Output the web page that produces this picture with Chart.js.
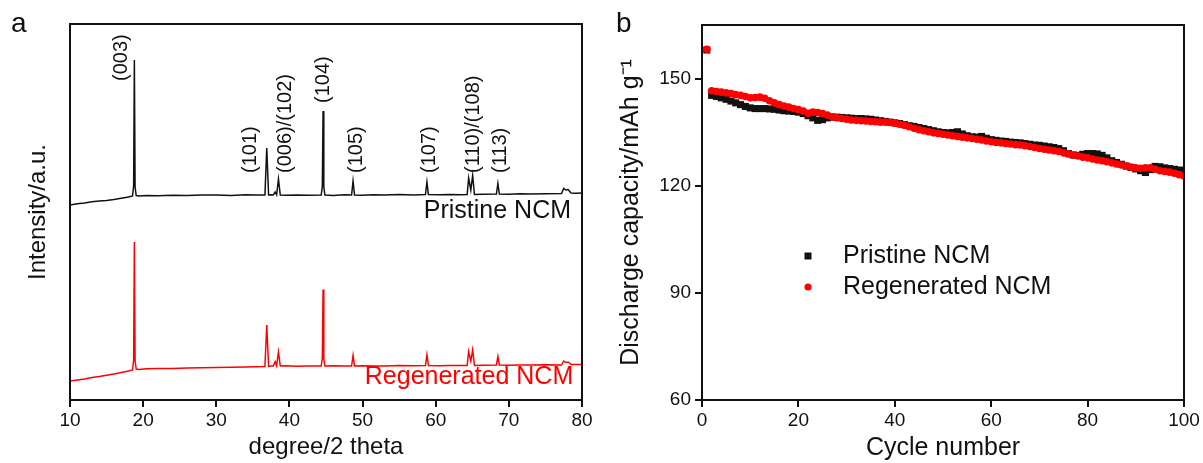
<!DOCTYPE html>
<html>
<head>
<meta charset="utf-8">
<title>NCM XRD and cycling</title>
<script src="https://cdn.jsdelivr.net/npm/chart.js@4.4.1/dist/chart.umd.min.js"></script>
<style>
    body { margin: 0; background: #fff; }
    #wrap { position: relative; width: 1203px; height: 463px; }
    .panel { position: absolute; top: 0; height: 463px; }
    #panelA { left: 0; width: 600px; }
    #panelB { left: 600px; width: 603px; }
</style>
</head>
<body>
<div id="wrap">
    <div class="panel" id="panelA"><canvas id="xrdChart"></canvas></div>
    <div class="panel" id="panelB"><canvas id="cycleChart"></canvas></div>
</div>
<script>
// ---- panel a: XRD patterns (intensity in arbitrary units, offset stacked) ----
const twoTheta = [
    10, 11, 12, 13, 14, 15, 16, 17, 18, 18.55, 18.7, 18.8, 18.9, 19.05, 19.4, 20.5, 22, 24, 26, 28, 30, 32,
    34, 35.5, 36.65, 36.9, 37.15, 37.5, 37.8, 38.05, 38.25, 38.5, 38.75, 39.5, 41, 42.5, 44.35, 44.5, 44.6, 44.7, 44.85, 46, 47.5, 48.5,
    48.7, 48.9, 50, 51.5, 53, 55, 57, 58.6, 58.8, 59.0, 60.5, 62, 63.5, 64.3, 64.5, 64.8, 65.05, 65.3, 66.5, 68.3,
    68.5, 68.7, 70, 71.5, 73, 75, 77.2, 77.5, 77.8, 78.1, 78.5, 79.2, 80
];
const pristineXrd = [
    195, 196.2, 197, 198.3, 199, 199.6, 200.5, 201.8, 203, 204, 214, 340, 213, 204.5, 204, 204.6, 204.3, 204.8, 204.5, 204.9, 205, 204.6,
    205.2, 204.9, 205, 252, 205, 205.3, 205, 208, 205.2, 221, 205, 204.7, 205.1, 204.8, 205, 214, 289, 213, 205, 204.6, 205.2, 205,
    219, 205, 204.8, 205.3, 205, 205.4, 205.1, 205.5, 218, 205.5, 205.2, 205.6, 205.3, 205.5, 222, 210, 224.5, 205.5, 205.8, 206,
    216.5, 206, 205.7, 206.2, 206, 206.3, 206.5, 211.5, 210, 210.5, 207, 206.8, 207
];
const regeneratedXrd = [
    19, 20.1, 21, 22.4, 23.5, 24.8, 26, 27.6, 29, 30, 40, 158, 39, 31, 30.5, 31.2, 31.5, 31.6, 32, 32.3, 32.5, 32.8,
    33, 33.2, 33.5, 75, 33.5, 33.9, 34, 38.4, 34.2, 48, 34, 34.3, 33.8, 34.1, 34, 42, 110.4, 41, 34, 34.2, 33.9, 34,
    44.5, 34, 34.3, 33.9, 34.1, 34.4, 34.2, 34.5, 45.2, 34.5, 34.3, 34.6, 34.4, 34.5, 48.5, 39, 50.2, 34.5, 34.8, 35,
    43.5, 35, 34.7, 35.1, 35, 35.2, 35, 39, 37.5, 38, 35.5, 35.4, 35.5
];
const peakNames = ['(003)', '(101)', '(006)/(102)', '(104)', '(105)', '(107)', '(110)/(108)', '(113)'];

// ---- panel b: cycling ----
const cycles = [
    1, 2, 3, 4, 5, 6, 7, 8, 9, 10, 11, 12, 13, 14, 15, 16, 17, 18, 19, 20,
    21, 22, 23, 24, 25, 26, 27, 28, 29, 30, 31, 32, 33, 34, 35, 36, 37, 38, 39, 40,
    41, 42, 43, 44, 45, 46, 47, 48, 49, 50, 51, 52, 53, 54, 55, 56, 57, 58, 59, 60,
    61, 62, 63, 64, 65, 66, 67, 68, 69, 70, 71, 72, 73, 74, 75, 76, 77, 78, 79, 80,
    81, 82, 83, 84, 85, 86, 87, 88, 89, 90, 91, 92, 93, 94, 95, 96, 97, 98, 99, 100
];
const pristineCapacity = [
    158.0, 145.3, 145.0, 144.6, 144.2, 143.7, 143.2, 142.7, 142.2, 141.8, 141.6, 141.6, 141.6, 141.5, 141.4, 141.2, 141.0, 140.9, 140.8, 140.6,
    140.2, 139.6, 139.0, 138.3, 138.5, 139.0, 139.2, 139.2, 139.1, 139.0, 138.9, 138.8, 138.8, 138.7, 138.6, 138.4, 138.2, 138.0, 137.8, 137.6,
    137.4, 137.1, 136.8, 136.6, 136.3, 136.0, 135.7, 135.4, 135.1, 134.9, 134.8, 134.9, 135.1, 134.5, 134.0, 133.7, 133.6, 133.8, 133.3, 132.9,
    132.7, 132.5, 132.4, 132.2, 132.1, 132.0, 131.8, 131.6, 131.4, 131.3, 131.1, 130.9, 130.7, 130.4, 129.8, 129.0, 128.6, 128.5, 128.8, 129.0,
    129.0, 128.9, 128.5, 127.8, 127.0, 126.5, 126.0, 125.5, 125.1, 124.7, 124.2, 123.7, 124.5, 125.4, 125.3, 125.0, 124.8, 124.6, 124.4, 124.2
];
const regeneratedCapacity = [
    158.2, 146.6, 146.4, 146.2, 146.0, 145.8, 145.5, 145.3, 145.0, 144.6, 144.7, 144.8, 144.5, 143.8, 143.2, 142.7, 142.3, 142.0, 141.6, 141.3,
    140.9, 140.3, 140.6, 140.5, 140.2, 139.8, 139.3, 139.0, 138.8, 138.6, 138.4, 138.3, 138.2, 138.1, 138.0, 137.9, 137.8, 137.8, 137.7, 137.5,
    137.2, 136.9, 136.5, 136.1, 135.7, 135.4, 135.1, 134.8, 134.6, 134.4, 134.2, 134.0, 133.8, 133.6, 133.4, 133.2, 133.0, 132.8, 132.5, 132.3,
    132.1, 132.0, 131.8, 131.7, 131.5, 131.4, 131.2, 131.0, 130.7, 130.4, 130.2, 130.0, 129.8, 129.6, 129.2, 128.9, 128.6, 128.3, 128.0, 127.8,
    127.5, 127.2, 127.0, 126.7, 126.4, 126.1, 125.8, 125.5, 125.2, 125.0, 124.9, 125.0, 125.0, 124.6, 124.2, 124.0, 123.8, 123.5, 123.1, 122.7
];

Chart.defaults.font.family = "'Liberation Sans', Arial, sans-serif";
Chart.defaults.color = '#111';

const INK = '#111';
const RED = '#ff0000';

// closed frame around the plot area (top and right sides too)
const frameBox = {
    id: 'frameBox',
    afterDraw(chart) {
        const { ctx, chartArea: a } = chart;
        ctx.save();
        ctx.strokeStyle = INK;
        ctx.lineWidth = 2;
        ctx.strokeRect(a.left, a.top, a.right - a.left, a.bottom - a.top);
        ctx.restore();
    }
};

// panel letter + free text notes anchored in data coordinates
const panelText = {
    id: 'panelText',
    afterDraw(chart, args, opts) {
        const { ctx, scales } = chart;
        ctx.save();
        ctx.fillStyle = INK;
        ctx.font = "28px 'Liberation Sans', Arial, sans-serif";
        ctx.textBaseline = 'alphabetic';
        ctx.textAlign = 'left';
        ctx.fillText(opts.letter, opts.letterX, 32);
        (opts.notes || []).forEach(n => {
            const x = scales.x.getPixelForValue(n.x);
            const y = scales.y.getPixelForValue(n.y);
            ctx.save();
            ctx.translate(x, y);
            if (n.rotate) ctx.rotate(-Math.PI / 2);
            ctx.font = n.size + "px 'Liberation Sans', Arial, sans-serif";
            ctx.fillStyle = n.color || INK;
            ctx.textAlign = n.align || 'left';
            ctx.textBaseline = 'middle';
            ctx.fillText(n.text, 0, 0);
            ctx.restore();
        });
        ctx.restore();
    }
};

// legend drawn inside the plot area from the datasets
const insideLegend = {
    id: 'insideLegend',
    afterDraw(chart, args, opts) {
        const { ctx, chartArea: a } = chart;
        ctx.save();
        ctx.font = "25px 'Liberation Sans', Arial, sans-serif";
        ctx.textBaseline = 'middle';
        chart.data.datasets.forEach((ds, i) => {
            const y = opts.top + i * opts.rowGap;
            const x = a.left + opts.markerX;
            ctx.fillStyle = ds.backgroundColor;
            if (ds.pointStyle === 'rect') {
                ctx.fillRect(x - 3.5, y - 3.5, 7, 7);
            } else {
                ctx.beginPath();
                ctx.arc(x, y, 3.6, 0, Math.PI * 2);
                ctx.fill();
            }
            ctx.fillStyle = INK;
            ctx.fillText(ds.label, a.left + opts.textX, y);
        });
        ctx.restore();
    }
};

const tickFont = { size: 19 };

// Panel a
new Chart(document.getElementById('xrdChart').getContext('2d'), {
    type: 'line',
    data: {
        datasets: [
            {
                label: 'Pristine NCM',
                data: twoTheta.map((t, i) => ({ x: t, y: pristineXrd[i] })),
                borderColor: INK,
                borderWidth: 1.5,
                pointRadius: 0,
                tension: 0
            },
            {
                label: 'Regenerated NCM',
                data: twoTheta.map((t, i) => ({ x: t, y: regeneratedXrd[i] })),
                borderColor: RED,
                borderWidth: 1.5,
                pointRadius: 0,
                tension: 0
            }
        ]
    },
    options: {
        responsive: true,
        maintainAspectRatio: false,
        animation: false,
        devicePixelRatio: 1,
        layout: { padding: { top: 24, right: 18, bottom: 0, left: 0 } },
        plugins: {
            legend: { display: false },
            tooltip: { enabled: false },
            panelText: {
                letter: 'a',
                letterX: 11,
                notes: [
                    { text: peakNames[0], x: 17.1, y: 319, rotate: true, size: 20 },
                    { text: peakNames[1], x: 34.7, y: 227, rotate: true, size: 20 },
                    { text: peakNames[2], x: 39.4, y: 227, rotate: true, size: 20 },
                    { text: peakNames[3], x: 44.7, y: 297, rotate: true, size: 20 },
                    { text: peakNames[4], x: 49.2, y: 227, rotate: true, size: 20 },
                    { text: peakNames[5], x: 59.1, y: 227, rotate: true, size: 20 },
                    { text: peakNames[6], x: 65.2, y: 227, rotate: true, size: 20 },
                    { text: peakNames[7], x: 68.9, y: 227, rotate: true, size: 20 },
                    { text: 'Pristine NCM', x: 78.5, y: 189, align: 'right', size: 25 },
                    { text: 'Regenerated NCM', x: 78.8, y: 22.5, align: 'right', size: 25, color: RED }
                ]
            }
        },
        scales: {
            x: {
                type: 'linear',
                min: 10,
                max: 80,
                ticks: { stepSize: 10, font: tickFont, padding: 2, maxRotation: 0 },
                grid: { drawOnChartArea: false, drawTicks: true, tickLength: 7, color: INK, lineWidth: 2 },
                border: { display: true, color: INK, width: 2 },
                title: { display: true, text: 'degree/2 theta', font: { size: 24 }, padding: { top: 0, bottom: 1 } },
                afterFit(scale) { scale.height = 63; }
            },
            y: {
                min: 0,
                max: 376,
                ticks: { display: false },
                grid: { display: false },
                border: { display: true, color: INK, width: 2 },
                title: { display: true, text: 'Intensity/a.u.', font: { size: 24 }, padding: { top: 24, bottom: 0 } },
                afterFit(scale) { scale.width = 70; }
            }
        }
    },
    plugins: [frameBox, panelText]
});

// Panel b
new Chart(document.getElementById('cycleChart').getContext('2d'), {
    type: 'scatter',
    data: {
        datasets: [
            {
                label: 'Pristine NCM',
                data: cycles.map((c, i) => ({ x: c, y: pristineCapacity[i] })),
                pointStyle: 'rect',
                pointRadius: 5,
                backgroundColor: INK,
                borderWidth: 0,
                order: 2
            },
            {
                label: 'Regenerated NCM',
                data: cycles.map((c, i) => ({ x: c, y: regeneratedCapacity[i] })),
                pointStyle: 'circle',
                pointRadius: 3.8,
                backgroundColor: RED,
                borderWidth: 0,
                order: 1
            }
        ]
    },
    options: {
        responsive: true,
        maintainAspectRatio: false,
        animation: false,
        devicePixelRatio: 1,
        layout: { padding: { top: 25, right: 19, bottom: 0, left: 0 } },
        plugins: {
            legend: { display: false },
            tooltip: { enabled: false },
            panelText: { letter: 'b', letterX: 16 },
            insideLegend: { markerX: 106, textX: 141, top: 256, rowGap: 31 }
        },
        scales: {
            x: {
                type: 'linear',
                min: 0,
                max: 100,
                ticks: { stepSize: 20, font: tickFont, padding: 2, maxRotation: 0 },
                grid: { drawOnChartArea: false, drawTicks: true, tickLength: 7, color: INK, lineWidth: 2 },
                border: { display: true, color: INK, width: 2 },
                title: { display: true, text: 'Cycle number', font: { size: 25 }, padding: { top: 0, bottom: 0 } },
                afterFit(scale) { scale.height = 63; }
            },
            y: {
                min: 60,
                max: 165,
                ticks: { stepSize: 30, includeBounds: false, font: tickFont, padding: 4 },
                grid: { drawOnChartArea: false, drawTicks: true, tickLength: 7, color: INK, lineWidth: 2 },
                border: { display: true, color: INK, width: 2 },
                title: { display: true, text: 'Discharge capacity/mAh g\u207B\u00B9', font: { size: 25 }, padding: { top: 16, bottom: 0 } },
                afterFit(scale) { scale.width = 102; }
            }
        }
    },
    plugins: [frameBox, panelText, insideLegend]
});
</script>
</body>
</html>
